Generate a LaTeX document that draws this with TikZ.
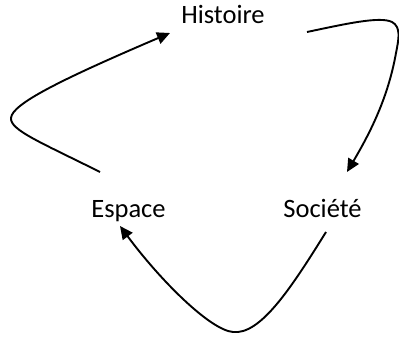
\documentclass[tikz,border=0pt]{standalone}
\usepackage{fontspec}
\setmainfont{Carlito}
\usetikzlibrary{arrows.meta}
\begin{document}
\begin{tikzpicture}[x=1pt,y=1pt,
  lbl/.style={inner sep=0pt,anchor=base,font=\fontsize{26.5}{30}\selectfont},
  conn/.style={line width=1.9pt,-{Triangle[length=13pt,width=12pt]}}]
\useasboundingbox (0,0) rectangle (399,338);
\node[lbl] (hist) at (223,314) {Histoire};
\node[lbl] (esp) at (128.5,121) {Espace};
\node[lbl] (soc) at (322.5,121) {Société};
\coordinate (e1) at (100,166);
\coordinate (h1) at (170,305);
\coordinate (h2) at (307,306);
\coordinate (s1) at (347,166);
\coordinate (s2) at (326,106);
\coordinate (e2) at (120,112);
\draw[conn] (e1) .. controls (40,196) and (10,208) .. (11,220)
  .. controls (12,234) and (60,258) .. (h1);
\draw[conn] (h2) .. controls (345,314) and (380,322) .. (392,316)
  .. controls (401,311) and (399,300) .. (396,285)
  .. controls (388,240) and (370,205) .. (s1);
\draw[conn] (s2) .. controls (290,48) and (260,3) .. (233,6)
  .. controls (210,8) and (160,58) .. (e2);
\end{tikzpicture}
\end{document}
